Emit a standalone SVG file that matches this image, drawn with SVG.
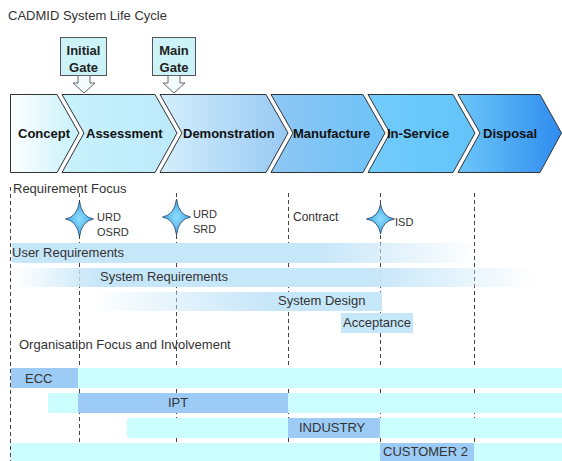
<svg xmlns="http://www.w3.org/2000/svg" width="562" height="461" viewBox="0 0 562 461">
  <style>
    text { font-family: "Liberation Sans", Arial, sans-serif; fill: #222; }
    .title { font-size: 13px; fill: #333; }
    .phase { font-size: 13px; font-weight: bold; fill: #111; }
    .gate-box { fill: #ccf4f8; stroke: #555; stroke-width: 1; }
    .gate-arrow { fill: #f2fcfd; stroke: #666; stroke-width: 1; }
    .gate-text { font-size: 13px; font-weight: bold; text-anchor: middle; fill: #222; }
    .chev { stroke: #333; stroke-width: 1; }
    .sec { font-size: 13px; fill: #333; }
    .lbl { font-size: 11px; fill: #333; }
    .bar { font-size: 13px; fill: #333; }
    .guide { stroke: #444; stroke-width: 1; stroke-dasharray: 4 3; fill: none; }
    .star { fill: url(#starFill); stroke: #1e3a66; stroke-width: 0.8; }
    .cyan { fill: #ccfdff; }
    .blue { fill: #9ccbf6; }
    .req { fill: #c6e6f9; }
  </style>
  <defs>
    <linearGradient id="gConcept" x1="0" x2="1" y1="0" y2="0">
      <stop offset="0" stop-color="#ffffff"/>
      <stop offset="1" stop-color="#c6f1fa"/>
    </linearGradient>
    <linearGradient id="gAssess" x1="0" x2="1" y1="0" y2="0">
      <stop offset="0" stop-color="#c8f2fb"/>
      <stop offset="1" stop-color="#bce9fb"/>
    </linearGradient>
    <linearGradient id="gDemo" x1="0" x2="1" y1="0" y2="0">
      <stop offset="0" stop-color="#d4eefc"/>
      <stop offset="1" stop-color="#98c9f4"/>
    </linearGradient>
    <linearGradient id="gManu" x1="0" x2="1" y1="0" y2="0">
      <stop offset="0" stop-color="#8ec7f4"/>
      <stop offset="1" stop-color="#6cc2f8"/>
    </linearGradient>
    <linearGradient id="gInServ" x1="0" x2="1" y1="0" y2="0">
      <stop offset="0" stop-color="#72ccfb"/>
      <stop offset="1" stop-color="#62c3f9"/>
    </linearGradient>
    <linearGradient id="gDisp" x1="0" x2="1" y1="0" y2="0">
      <stop offset="0" stop-color="#6cc6f9"/>
      <stop offset="1" stop-color="#2f8cee"/>
    </linearGradient>
    <radialGradient id="starFill">
      <stop offset="0" stop-color="#8fdcfb"/>
      <stop offset="1" stop-color="#3aa8e8"/>
    </radialGradient>
    <linearGradient id="gUser" gradientUnits="userSpaceOnUse" x1="12" y1="0" x2="480" y2="0">
      <stop offset="0" stop-color="#c6e6f9"/>
      <stop offset="0.65" stop-color="#c6e6f9"/>
      <stop offset="1" stop-color="#c6e6f9" stop-opacity="0"/>
    </linearGradient>
    <linearGradient id="gSys" gradientUnits="userSpaceOnUse" x1="15" y1="0" x2="535" y2="0">
      <stop offset="0" stop-color="#c6e6f9" stop-opacity="0"/>
      <stop offset="0.16" stop-color="#c6e6f9"/>
      <stop offset="0.68" stop-color="#c6e6f9"/>
      <stop offset="1" stop-color="#c6e6f9" stop-opacity="0"/>
    </linearGradient>
    <linearGradient id="gDesign" gradientUnits="userSpaceOnUse" x1="90" y1="0" x2="382" y2="0">
      <stop offset="0" stop-color="#c6e6f9" stop-opacity="0"/>
      <stop offset="0.62" stop-color="#c6e6f9"/>
      <stop offset="1" stop-color="#c6e6f9"/>
    </linearGradient>
    <path id="star4" d="M0,-18 Q2,-2 14,0 Q2,2 0,18 Q-2,2 -14,0 Q-2,-2 0,-18Z"/>
  </defs>

  <text class="title" x="8" y="20">CADMID System Life Cycle</text>

  <!-- guide lines, drawn first so the bands cover them -->
  <g id="guides">
    <line class="guide" x1="10.5" y1="187" x2="10.5" y2="461"/>
    <line class="guide" x1="79.5" y1="193" x2="79.5" y2="461"/>
    <line class="guide" x1="176.5" y1="193" x2="176.5" y2="461"/>
    <line class="guide" x1="288.5" y1="193" x2="288.5" y2="461"/>
    <line class="guide" x1="380.5" y1="193" x2="380.5" y2="461"/>
    <line class="guide" x1="474.5" y1="193" x2="474.5" y2="461"/>
  </g>

  <!-- requirement bands -->
  <g id="band-user-requirements">
    <rect x="12" y="243" width="470" height="20" fill="url(#gUser)"/>
    <text class="bar" x="12" y="257">User Requirements</text>
  </g>
  <g id="band-system-requirements">
    <rect x="15" y="268" width="520" height="19" fill="url(#gSys)"/>
    <text class="bar" x="100" y="281">System Requirements</text>
  </g>
  <g id="band-system-design">
    <rect x="90" y="292" width="292" height="19" fill="url(#gDesign)"/>
    <text class="bar" x="278" y="305">System Design</text>
  </g>
  <g id="band-acceptance">
    <rect class="req" x="341" y="313" width="72" height="20"/>
    <text class="bar" x="343" y="327">Acceptance</text>
  </g>

  <!-- gates -->
  <g id="gate-initial">
    <rect class="gate-box" x="60.5" y="37.5" width="46" height="38"/>
    <polygon class="gate-arrow" points="78,75.5 90,75.5 90,83 95,83 84,93 73,83 78,83"/>
    <text class="gate-text" x="83.5" y="55">Initial</text>
    <text class="gate-text" x="83.5" y="72">Gate</text>
  </g>
  <g id="gate-main">
    <rect class="gate-box" x="152.5" y="37.5" width="43" height="38"/>
    <polygon class="gate-arrow" points="168,75.5 180,75.5 180,83 185,83 174,93 163,83 168,83"/>
    <text class="gate-text" x="174" y="55">Main</text>
    <text class="gate-text" x="174" y="72">Gate</text>
  </g>

  <!-- lifecycle phases -->
  <g id="phase-concept">
    <polygon class="chev" fill="url(#gConcept)" points="10.5,94.5 57,94.5 79,133 57,172.5 10.5,172.5"/>
    <text class="phase" x="18" y="138">Concept</text>
  </g>
  <g id="phase-assessment">
    <polygon class="chev" fill="url(#gAssess)" points="62,94.5 155,94.5 177,133 155,172.5 62,172.5 84,133"/>
    <text class="phase" x="86" y="138">Assessment</text>
  </g>
  <g id="phase-demonstration">
    <polygon class="chev" fill="url(#gDemo)" points="160,94.5 266,94.5 288,133 266,172.5 160,172.5 182,133"/>
    <text class="phase" x="183" y="138">Demonstration</text>
  </g>
  <g id="phase-manufacture">
    <polygon class="chev" fill="url(#gManu)" points="271,94.5 363,94.5 385,133 363,172.5 271,172.5 293,133"/>
    <text class="phase" x="293" y="138">Manufacture</text>
  </g>
  <g id="phase-in-service">
    <polygon class="chev" fill="url(#gInServ)" points="368,94.5 453,94.5 475,133 453,172.5 368,172.5 390,133"/>
    <text class="phase" x="387" y="138">In-Service</text>
  </g>
  <g id="phase-disposal">
    <polygon class="chev" fill="url(#gDisp)" points="458,94.5 540,94.5 561.5,133 540,172.5 458,172.5 480,133"/>
    <text class="phase" x="483" y="138">Disposal</text>
  </g>

  <text class="sec" x="13" y="193">Requirement Focus</text>

  <!-- milestones -->
  <g id="milestone-urd-osrd">
    <use href="#star4" class="star" x="79.5" y="219"/>
    <text class="lbl" x="97" y="221">URD</text>
    <text class="lbl" x="97" y="236">OSRD</text>
  </g>
  <g id="milestone-urd-srd">
    <use href="#star4" class="star" x="176.5" y="217"/>
    <text class="lbl" x="193" y="218">URD</text>
    <text class="lbl" x="193" y="233">SRD</text>
  </g>
  <g id="milestone-contract">
    <text class="lbl" x="293" y="221" style="font-size:12px">Contract</text>
  </g>
  <g id="milestone-isd">
    <path class="star" transform="translate(380.5,219)" d="M0,-15 Q2,-2 14,0 Q2,2 0,15 Q-2,2 -14,0 Q-2,-2 0,-15Z"/>
    <text class="lbl" x="395" y="226">ISD</text>
  </g>

  <text class="sec" x="19" y="349">Organisation Focus and Involvement</text>

  <!-- organisations -->
  <g id="org-ecc">
    <rect class="cyan" x="78" y="368" width="484" height="20"/>
    <rect class="blue" x="11" y="368" width="67" height="20"/>
    <text class="bar" x="25" y="383">ECC</text>
  </g>
  <g id="org-ipt">
    <rect class="cyan" x="48" y="393" width="514" height="20"/>
    <rect class="blue" x="78" y="393" width="210" height="20"/>
    <text class="bar" x="168" y="407">IPT</text>
  </g>
  <g id="org-industry">
    <rect class="cyan" x="127" y="418" width="435" height="20"/>
    <rect class="blue" x="288" y="418" width="92" height="20"/>
    <text class="bar" x="299" y="432">INDUSTRY</text>
  </g>
  <g id="org-customer">
    <rect class="cyan" x="11" y="443" width="551" height="18"/>
    <rect class="blue" x="380" y="443" width="94" height="18"/>
    <text class="bar" x="383" y="456">CUSTOMER 2</text>
  </g>
</svg>
